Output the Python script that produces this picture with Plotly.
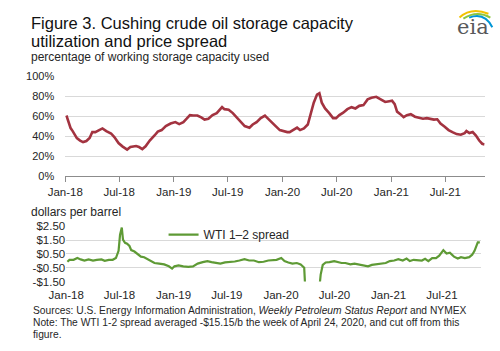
import plotly.graph_objects as go

# ---------------- data ----------------
util_dates = [
    "2018-01-05", "2018-01-12", "2018-01-19", "2018-01-26", "2018-02-09", "2018-02-20",
    "2018-03-02", "2018-03-13", "2018-03-24", "2018-04-02", "2018-04-12", "2018-04-25",
    "2018-05-06", "2018-05-19", "2018-06-04", "2018-06-15", "2018-06-29", "2018-07-12",
    "2018-07-28", "2018-08-08", "2018-08-27", "2018-09-06", "2018-09-17", "2018-09-28",
    "2018-10-12", "2018-10-28", "2018-11-08", "2018-11-21", "2018-12-05", "2018-12-21",
    "2019-01-06", "2019-01-19", "2019-02-02", "2019-02-13", "2019-02-24", "2019-03-07",
    "2019-03-21", "2019-04-03", "2019-04-14", "2019-04-27", "2019-05-11", "2019-05-25",
    "2019-06-04", "2019-06-12", "2019-06-20", "2019-07-04", "2019-07-18", "2019-07-31",
    "2019-08-13", "2019-08-27", "2019-09-12", "2019-09-23", "2019-10-06", "2019-10-20",
    "2019-11-03", "2019-11-13", "2019-11-26", "2019-12-09", "2019-12-23", "2020-01-06",
    "2020-01-17", "2020-01-25", "2020-02-08", "2020-02-19", "2020-02-29", "2020-03-13",
    "2020-03-26", "2020-04-04", "2020-04-15", "2020-04-26", "2020-05-04", "2020-05-12",
    "2020-05-23", "2020-06-06", "2020-06-19", "2020-06-29", "2020-07-10", "2020-07-23",
    "2020-08-06", "2020-08-20", "2020-09-02", "2020-09-15", "2020-09-29", "2020-10-13",
    "2020-10-26", "2020-11-11", "2020-11-25", "2020-12-11", "2020-12-25", "2021-01-03",
    "2021-01-12", "2021-01-20", "2021-01-31", "2021-02-11", "2021-02-22", "2021-03-07",
    "2021-03-21", "2021-04-04", "2021-04-17", "2021-04-30", "2021-05-14", "2021-05-24",
    "2021-06-04", "2021-06-15", "2021-06-29", "2021-07-12", "2021-07-25", "2021-08-08",
    "2021-08-22", "2021-09-04", "2021-09-10", "2021-09-20", "2021-10-01", "2021-10-12",
    "2021-10-23", "2021-11-02", "2021-11-10",
]
util_pct = [
    60.6, 55.0, 48.0, 45.0, 38.0, 35.5,
    34.0, 35.0, 38.0, 44.0, 44.0, 46.0,
    47.7, 45.0, 42.6, 39.0, 33.0, 29.7,
    26.5, 29.0, 30.0, 29.0, 27.0, 29.7,
    35.5, 40.6, 44.5, 46.0, 50.0, 52.6,
    54.0, 52.0, 54.0, 57.4, 61.0, 60.6,
    60.6, 58.7, 56.5, 57.4, 61.0, 63.0,
    66.5, 69.0, 67.0, 66.5, 63.0, 59.0,
    54.0, 50.0, 48.4, 51.6, 54.0, 58.0,
    60.6, 57.4, 54.0, 50.0, 46.0, 44.5,
    44.0, 44.0, 46.0, 48.4, 46.0, 47.7,
    51.6, 61.0, 73.5, 81.6, 83.0, 73.5,
    67.7, 63.0, 58.0, 58.0, 61.0, 63.5,
    67.0, 69.0, 67.7, 70.3, 71.0, 76.8,
    78.4, 79.4, 76.8, 74.2, 75.0, 75.5,
    72.0, 64.5, 62.0, 59.0, 61.0, 62.0,
    59.4, 58.7, 57.4, 58.0, 57.4, 56.5,
    56.8, 52.6, 49.4, 46.0, 44.0, 42.0,
    41.3, 43.0, 45.0, 43.0, 44.0, 40.6,
    35.5, 32.3, 31.6,
]

spread_dates = [
    "2018-01-05", "2018-01-12", "2018-01-26", "2018-02-08", "2018-02-19", "2018-03-04",
    "2018-03-18", "2018-04-02", "2018-04-15", "2018-05-01", "2018-05-12", "2018-05-26",
    "2018-06-08", "2018-06-19", "2018-06-28", "2018-07-03", "2018-07-09", "2018-07-13",
    "2018-07-20", "2018-07-27", "2018-08-04", "2018-08-10", "2018-08-21", "2018-09-01",
    "2018-09-12", "2018-09-23", "2018-10-04", "2018-10-15", "2018-10-28", "2018-11-13",
    "2018-11-30", "2018-12-16", "2018-12-27", "2019-01-04", "2019-01-18", "2019-02-03",
    "2019-02-20", "2019-03-08", "2019-03-24", "2019-04-10", "2019-04-26", "2019-05-10",
    "2019-05-23", "2019-06-09", "2019-06-25", "2019-07-11", "2019-07-28", "2019-08-13",
    "2019-08-30", "2019-09-15", "2019-10-01", "2019-10-18", "2019-11-03", "2019-11-19",
    "2019-12-03", "2019-12-17", "2020-01-02", "2020-01-13", "2020-01-26", "2020-02-09",
    "2020-02-24", "2020-03-08", "2020-03-20", "2020-03-27", "2020-04-03", "2020-04-10",
    "2020-04-17", "2020-04-24", "2020-05-01", "2020-05-08", "2020-05-15", "2020-05-22",
    "2020-06-01", "2020-06-14", "2020-06-30", "2020-07-11", "2020-07-25", "2020-08-07",
    "2020-08-24", "2020-09-07", "2020-09-22", "2020-10-06", "2020-10-23", "2020-11-05",
    "2020-11-19", "2020-12-05", "2020-12-22", "2021-01-05", "2021-01-20", "2021-02-03",
    "2021-02-18", "2021-03-03", "2021-03-14", "2021-03-27", "2021-04-10", "2021-04-24",
    "2021-05-05", "2021-05-16", "2021-05-29", "2021-06-11", "2021-06-22", "2021-07-06",
    "2021-07-17", "2021-07-28", "2021-08-11", "2021-08-24", "2021-09-04", "2021-09-17",
    "2021-10-02", "2021-10-12", "2021-10-20", "2021-10-27", "2021-10-31", "2021-11-07",
]
spread_usd = [
    -0.07, 0.07, 0.07, 0.20, 0.10, 0.02,
    0.10, 0.02, 0.07, 0.10, 0.00, 0.07,
    0.07, 0.20, 0.72, 1.88, 2.40, 1.53,
    1.30, 1.23, 1.07, 0.77, 0.67, 0.49,
    0.30, 0.26, 0.14, 0.02, -0.16, -0.20,
    -0.26, -0.40, -0.56, -0.40, -0.33, -0.40,
    -0.44, -0.40, -0.20, -0.10, -0.02, -0.10,
    -0.16, -0.20, -0.12, -0.10, -0.05, 0.02,
    0.12, 0.02, 0.02, -0.10, -0.07, 0.02,
    0.07, 0.07, 0.20, -0.02, -0.12, -0.20,
    -0.16, -0.26, -0.50, -1.90, -4.00, -6.50,
    -8.00, -15.15, -5.00, -2.50, -1.00, -0.30,
    -0.12, -0.10, -0.02, -0.07, -0.16, -0.16,
    -0.26, -0.20, -0.26, -0.35, -0.40, -0.30,
    -0.26, -0.20, -0.16, -0.02, 0.02, 0.12,
    0.02, 0.16, -0.02, 0.07, 0.02, 0.02,
    0.14, -0.02, 0.20, 0.20, 0.37, 0.77,
    0.53, 0.58, 0.30, 0.16, 0.26, 0.20,
    0.26, 0.44, 0.72, 1.19, 1.33, 1.33,
]

x_tick_dates = ["2018-01-01", "2018-07-01", "2019-01-01", "2019-07-01",
                "2020-01-01", "2020-07-01", "2021-01-01", "2021-07-01"]
x_tick_labels = ["Jan-18", "Jul-18", "Jan-19", "Jul-19",
                 "Jan-20", "Jul-20", "Jan-21", "Jul-21"]
x_range = ["2018-01-01", "2021-11-10"]

pct_ticks = [0, 20, 40, 60, 80, 100]
pct_labels = ["0%", "20%", "40%", "60%", "80%", "100%"]
usd_ticks = [-1.5, -0.5, 0.5, 1.5, 2.5]
usd_labels = ["-$1.50", "-$0.50", "$0.50", "$1.50", "$2.50"]

# ---------------- layout helpers ----------------
W, H = 500, 351
def px(x):
    return x / W
def py(y):
    return 1 - y / H

FONT = "Liberation Sans, Arial, sans-serif"
TXT = "#262626"
GRID = "#d9d9d9"
AXIS = "#8c8c8c"
RED = "#A33340"
GREEN = "#5E9A35"

fig = go.Figure()
fig.add_trace(go.Scatter(
    x=util_dates, y=util_pct, mode="lines", showlegend=False, hoverinfo="skip",
    line=dict(color=RED, width=2.6), xaxis="x", yaxis="y"))
fig.add_trace(go.Scatter(
    x=spread_dates, y=spread_usd, mode="lines", name="WTI 1\u20132 spread",
    hoverinfo="skip", line=dict(color=GREEN, width=2.2), xaxis="x2", yaxis="y2"))

tickfont = dict(family=FONT, size=11.5, color=TXT)

fig.update_layout(
    width=W, height=H, margin=dict(l=0, r=0, t=0, b=0),
    paper_bgcolor="white", plot_bgcolor="white",
    font=dict(family=FONT, color=TXT),
    xaxis=dict(domain=[px(49), px(484)], anchor="y", range=x_range, type="date",
               tickvals=x_tick_dates, ticktext=x_tick_labels, tickfont=tickfont,
               showgrid=False, zeroline=False, showline=True, linecolor=AXIS, linewidth=1,
               ticks="outside", ticklen=5, tickcolor=AXIS, tickwidth=1),
    yaxis=dict(domain=[py(176), py(72.7)], anchor="x", range=[0, 100],
               tickvals=pct_ticks, ticktext=pct_labels,
               tickfont=dict(family=FONT, size=11, color=TXT),
               showgrid=True, gridcolor=GRID, gridwidth=1, zeroline=False,
               showline=False, ticks="", ticklabelstandoff=10),
    xaxis2=dict(domain=[px(50), px(480)], anchor="y2", range=x_range, type="date",
                tickvals=x_tick_dates, ticktext=x_tick_labels, tickfont=tickfont,
                showgrid=False, zeroline=False, showline=False, ticks="",
                ticklabelstandoff=5),
    xaxis3=dict(overlaying="x2", anchor="free", position=py(263.7), range=x_range,
                type="date", tickvals=x_tick_dates, showticklabels=False,
                showgrid=False, zeroline=False, showline=True, linecolor=AXIS,
                linewidth=1, ticks="outside", ticklen=5, tickcolor=AXIS, tickwidth=1),
    yaxis2=dict(domain=[py(285.3), py(228)], anchor="x2", range=[-1.5, 2.5],
                tickvals=usd_ticks, ticktext=usd_labels,
                tickfont=dict(family=FONT, size=11.5, color=TXT),
                showgrid=True, gridcolor=GRID, gridwidth=1, zeroline=False,
                showline=False, ticks="", ticklabelstandoff=0),
    showlegend=True,
    legend=dict(x=px(151), y=py(236.7), xanchor="left", yanchor="middle",
                bgcolor="rgba(0,0,0,0)", font=dict(family=FONT, size=12, color=TXT),
                borderwidth=0),
)

ann = []
ann.append(dict(text="Figure 3. Cushing crude oil storage capacity", x=px(12), y=py(17.4),
                xanchor="left", yanchor="middle", font=dict(size=16.5, color="#111")))
ann.append(dict(text="utilization and price spread", x=px(12), y=py(35.9),
                xanchor="left", yanchor="middle", font=dict(size=16.5, color="#111")))
ann.append(dict(text="percentage of working storage capacity used", x=px(12), y=py(52.7),
                xanchor="left", yanchor="middle", font=dict(size=12, color=TXT)))
ann.append(dict(text="dollars per barrel", x=px(12), y=py(213.5),
                xanchor="left", yanchor="middle", font=dict(size=12, color=TXT)))
ann.append(dict(text="Sources: U.S. Energy Information Administration, <i>Weekly Petroleum Status Report</i> and NYMEX",
                x=px(15), y=py(315), xanchor="left", yanchor="middle",
                font=dict(size=10.25, color=TXT)))
ann.append(dict(text="Note: The WTI 1-2 spread averaged -$15.15/b the week of April 24, 2020, and cut off from this",
                x=px(15), y=py(328), xanchor="left", yanchor="middle",
                font=dict(size=10.25, color=TXT)))
ann.append(dict(text="figure.", x=px(15), y=py(340.5), xanchor="left", yanchor="middle",
                font=dict(size=10.25, color=TXT)))
# eia logo text
ann.append(dict(text="eia", x=px(472), y=py(22), xanchor="center", yanchor="middle",
                font=dict(family="DejaVu Serif, serif", size=21, color="#58595b")))
for a in ann:
    a.update(xref="paper", yref="paper", showarrow=False, borderpad=0)
    a.setdefault("font", {})
    a["font"].setdefault("family", FONT)
fig.update_layout(annotations=ann)

# eia logo swooshes
def arc(x0, y0, xc, yc, x1, y1):
    return f"M {px(x0)},{py(y0)} Q {px(xc)},{py(yc)} {px(x1)},{py(y1)}"
fig.update_layout(shapes=[
    dict(type="path", xref="paper", yref="paper", path=arc(458, 12, 470, 1, 488, 8),
         line=dict(color="#F2C200", width=2)),
    dict(type="path", xref="paper", yref="paper", path=arc(462, 13, 476, 4, 490, 12),
         line=dict(color="#8DC63F", width=2)),
    dict(type="path", xref="paper", yref="paper", path=arc(468, 12, 484, 6, 492, 22),
         line=dict(color="#0096D6", width=2)),
])

fig.write_html("out.html")
